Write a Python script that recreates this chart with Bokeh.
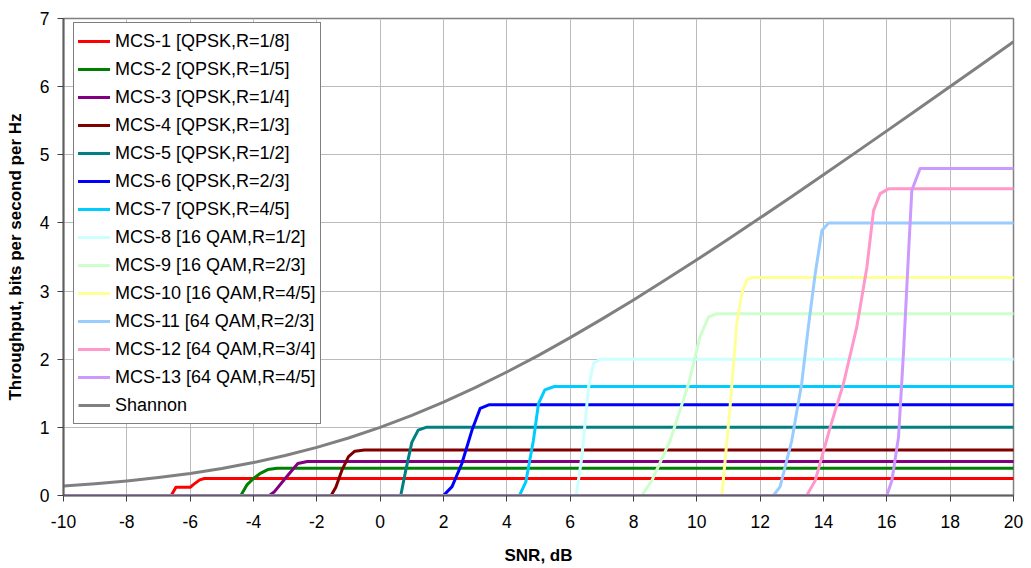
from bokeh.plotting import figure
from bokeh.models import Range1d, FixedTicker, Legend, LegendItem
from bokeh.embed import file_html
from bokeh.resources import INLINE

# ---- data ----
names = ["MCS-1 [QPSK,R=1/8]", "MCS-2 [QPSK,R=1/5]", "MCS-3 [QPSK,R=1/4]",
         "MCS-4 [QPSK,R=1/3]", "MCS-5 [QPSK,R=1/2]", "MCS-6 [QPSK,R=2/3]",
         "MCS-7 [QPSK,R=4/5]", "MCS-8 [16 QAM,R=1/2]", "MCS-9 [16 QAM,R=2/3]",
         "MCS-10 [16 QAM,R=4/5]", "MCS-11 [64 QAM,R=2/3]", "MCS-12 [64 QAM,R=3/4]",
         "MCS-13 [64 QAM,R=4/5]"]
colors = ["#FF0000", "#008000", "#800080", "#800000", "#008080", "#0000FF",
          "#00CCFF", "#CCFFFF", "#CCFFCC", "#FFFF99", "#99CCFF", "#FF99CC", "#CC99FF"]

mcs1_x = [-10, -6.6, -6.45, -6.0, -5.9, -5.7, -5.55, 20]
mcs1_y = [0, 0, 0.12, 0.12, 0.16, 0.23, 0.25, 0.25]
mcs2_x = [-10, -4.4, -4.3, -4.2, -4.0, -3.8, -3.55, -3.25, 20]
mcs2_y = [0, 0, 0.08, 0.16, 0.25, 0.32, 0.38, 0.4, 0.4]
mcs3_x = [-10, -3.5, -3.35, -3.0, -2.6, -2.3, -2.1, 20]
mcs3_y = [0, 0, 0.05, 0.25, 0.47, 0.5, 0.5, 0.5]
mcs4_x = [-10, -1.55, -1.4, -1.2, -1.0, -0.8, -0.5, 20]
mcs4_y = [0, 0, 0.12, 0.38, 0.57, 0.65, 0.667, 0.667]
mcs5_x = [-10, 0.65, 0.8, 1.0, 1.2, 1.45, 20]
mcs5_y = [0, 0, 0.35, 0.78, 0.96, 1.0, 1.0]
mcs6_x = [-10, 2.0, 2.27, 2.58, 2.9, 3.16, 3.45, 20]
mcs6_y = [0, 0, 0.13, 0.47, 0.96, 1.28, 1.333, 1.333]
mcs7_x = [-10, 4.4, 4.6, 4.84, 5.0, 5.2, 5.5, 20]
mcs7_y = [0, 0, 0.2, 0.81, 1.35, 1.55, 1.6, 1.6]
mcs8_x = [-10, 6.19, 6.37, 6.58, 6.74, 6.95, 20]
mcs8_y = [0, 0, 0.57, 1.59, 1.94, 2.0, 2.0]
mcs9_x = [-10, 8.26, 8.58, 9.16, 9.74, 10.1, 10.37, 10.63, 20]
mcs9_y = [0, 0, 0.22, 0.81, 1.64, 2.33, 2.62, 2.667, 2.667]
mcs10_x = [-10, 10.79, 11.05, 11.26, 11.42, 11.58, 11.8, 20]
mcs10_y = [0, 0, 1.3, 2.52, 2.96, 3.17, 3.2, 3.2]
mcs11_x = [-10, 12.42, 12.63, 13.0, 13.31, 13.52, 13.74, 13.95, 14.16, 20]
mcs11_y = [0, 0, 0.13, 0.81, 1.64, 2.47, 3.26, 3.89, 4.0, 4.0]
mcs12_x = [-10, 13.47, 13.74, 14.21, 14.63, 15.05, 15.37, 15.58, 15.79, 16.05, 20]
mcs12_y = [0, 0, 0.22, 1.0, 1.64, 2.47, 3.35, 4.18, 4.43, 4.5, 4.5]
mcs13_x = [-10, 16.0, 16.16, 16.37, 16.53, 16.69, 16.79, 17.05, 20]
mcs13_y = [0, 0, 0.22, 0.86, 2.13, 3.6, 4.48, 4.8, 4.8]

shannon_x = [-10, -9, -8, -7, -6, -5, -4, -3, -2, -1, 0, 1, 2, 3, 4, 5, 6, 7, 8, 9,
             10, 11, 12, 13, 14, 15, 16, 17, 18, 19, 20]
shannon_y = [0.138, 0.171, 0.212, 0.263, 0.323, 0.396, 0.483, 0.586, 0.706, 0.844,
             1.0, 1.176, 1.370, 1.583, 1.812, 2.057, 2.317, 2.588, 2.870, 3.161,
             3.459, 3.764, 4.075, 4.389, 4.707, 5.028, 5.351, 5.676, 6.002, 6.330, 6.658]

x_ticks = [-10, -8, -6, -4, -2, 0, 2, 4, 6, 8, 10, 12, 14, 16, 18, 20]
x_tick_labels = ["-10", "-8", "-6", "-4", "-2", "0", "2", "4", "6", "8", "10",
                 "12", "14", "16", "18", "20"]
y_ticks = [0, 1, 2, 3, 4, 5, 6, 7]

series_x = [mcs1_x, mcs2_x, mcs3_x, mcs4_x, mcs5_x, mcs6_x, mcs7_x, mcs8_x,
            mcs9_x, mcs10_x, mcs11_x, mcs12_x, mcs13_x]
series_y = [mcs1_y, mcs2_y, mcs3_y, mcs4_y, mcs5_y, mcs6_y, mcs7_y, mcs8_y,
            mcs9_y, mcs10_y, mcs11_y, mcs12_y, mcs13_y]

FONT = "Liberation Sans"

p = figure(width=1031, height=568, output_backend="svg", toolbar_location=None,
           x_range=Range1d(-10, 20), y_range=Range1d(0, 7))
p.min_border_left = 63
p.min_border_right = 18
p.min_border_top = 18
p.min_border_bottom = 73
p.outline_line_color = "#808080"
p.outline_line_width = 1.5
p.background_fill_color = "white"
p.border_fill_color = "white"

items = []
for nm, c, xs, ys in zip(names, colors, series_x, series_y):
    r = p.line(xs, ys, line_color=c, line_width=3, line_join="round", line_cap="round")
    items.append(LegendItem(label=nm, renderers=[r]))
rs = p.line(shannon_x, shannon_y, line_color="#808080", line_width=3, line_join="round")
items.append(LegendItem(label="Shannon", renderers=[rs]))

legend = Legend(items=items, location=(10, 71))
legend.label_text_font = FONT
legend.label_text_font_size = "18px"
legend.label_text_color = "black"
legend.border_line_color = "black"
legend.border_line_width = 1
legend.background_fill_color = "white"
legend.background_fill_alpha = 1
legend.padding = 4
legend.spacing = 0
legend.margin = 0
legend.glyph_width = 32
legend.glyph_height = 28
legend.label_height = 28
legend.label_standoff = 5
p.add_layout(legend, "center")

p.xaxis.ticker = FixedTicker(ticks=x_ticks)
p.yaxis.ticker = FixedTicker(ticks=y_ticks)
p.xaxis.major_label_overrides = {t: s for t, s in zip(x_ticks, x_tick_labels)}
p.xgrid.ticker = FixedTicker(ticks=x_ticks)
p.ygrid.ticker = FixedTicker(ticks=y_ticks)
p.grid.grid_line_color = "#BBBBBB"
p.grid.grid_line_width = 1

for ax in (p.xaxis, p.yaxis):
    ax.major_label_text_font = FONT
    ax.major_label_text_font_size = "17.5px"
    ax.major_label_text_color = "black"
    ax.axis_label_text_font = FONT
    ax.axis_label_text_font_size = "17px"
    ax.axis_label_text_font_style = "bold"
    ax.axis_label_text_color = "black"
    ax.minor_tick_line_color = None
    ax.major_tick_out = 6
    ax.major_tick_in = 0
    ax.major_tick_line_color = "#404040"
    ax.axis_line_color = "#606060"
    ax.axis_line_width = 2

p.xaxis.axis_label = "SNR, dB"
p.yaxis.axis_label = "Throughput, bits per second per Hz"
p.xaxis.major_label_standoff = 13
p.yaxis.major_label_standoff = 8
p.xaxis.axis_label_standoff = 15
p.yaxis.axis_label_standoff = 12

open("out.html", "w").write(file_html(p, INLINE))
